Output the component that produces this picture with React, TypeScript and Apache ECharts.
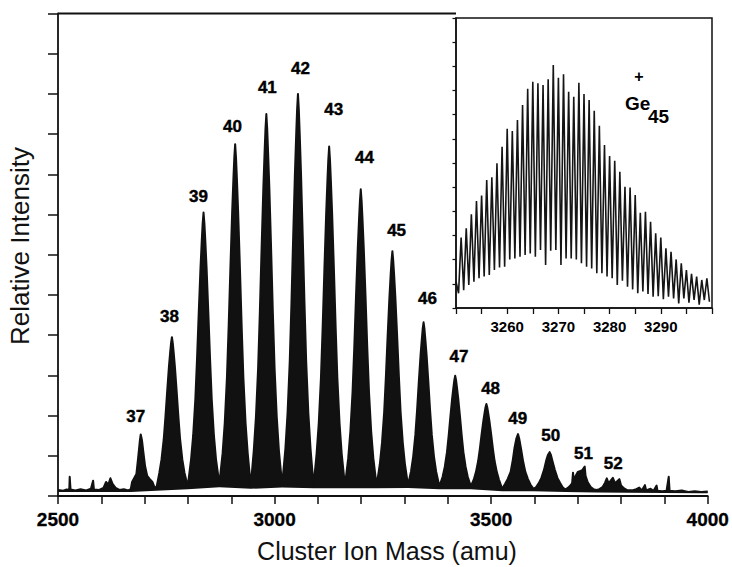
import React, { useEffect, useRef } from "react";
import * as echarts from "echarts";

// ---------- data ----------
const mainTickLabels = [2500, 3000, 3500, 4000];
const insetTickLabels = [3260, 3270, 3280, 3290];

const clusterSizes = [37, 38, 39, 40, 41, 42, 43, 44, 45, 46, 47, 48, 49, 50, 51, 52];
const clusterPeakMass = [2691, 2763, 2836, 2909, 2981, 3054, 3126, 3199, 3272, 3344, 3417, 3489, 3562, 3635, 3707, 3780];
const clusterPeakHeight = [1.53, 3.95, 7.05, 8.75, 9.5, 10.0, 8.69, 7.63, 6.09, 4.32, 2.99, 2.29, 1.54, 1.09, 0.73, 0.45];

// upper envelope of the main spectrum [mass amu, relative intensity]
const mainSpectrum: [number, number][] = [
  [2500, 0.15], [2512, 0.13], [2520, 0.16], [2526, 0.15], [2527, 0.48], [2529, 0.16], [2540, 0.14], [2552, 0.17],
  [2565, 0.14], [2576, 0.18], [2581, 0.38], [2583, 0.16], [2595, 0.15], [2605, 0.2], [2611, 0.35], [2616, 0.28],
  [2621, 0.44], [2626, 0.3], [2633, 0.2], [2642, 0.15], [2652, 0.17], [2662, 0.14], [2668, 0.17],
  // 37
  [2671, 0.35], [2676, 0.45], [2681, 0.55], [2685, 0.95], [2689, 1.38], [2691, 1.53], [2694, 1.38], [2697, 1.1],
  [2701, 0.75], [2706, 0.5], [2712, 0.42], [2718, 0.35], [2722, 0.24], [2727, 0.19],
  // 38
  [2734, 0.58], [2739, 0.91], [2744, 1.4], [2748, 1.96], [2752, 2.6], [2756, 3.2], [2759, 3.58], [2761, 3.8], [2763, 3.95],
  [2765, 3.8], [2767, 3.58], [2770, 3.2], [2774, 2.6], [2778, 1.96], [2782, 1.4], [2787, 0.91], [2792, 0.58], [2799.5, 0.24],
  // 39
  [2807, 0.89], [2812, 1.5], [2817, 2.39], [2821, 3.42], [2825, 4.58], [2829, 5.68], [2832, 6.37], [2834, 6.78], [2836, 7.05],
  [2838, 6.78], [2840, 6.37], [2843, 5.68], [2847, 4.58], [2851, 3.42], [2855, 2.39], [2860, 1.5], [2865, 0.89], [2872.5, 0.3],
  // 40
  [2880, 1.06], [2885, 1.82], [2890, 2.94], [2894, 4.22], [2898, 5.67], [2902, 7.04], [2905, 7.9], [2907, 8.41], [2909, 8.75],
  [2911, 8.41], [2913, 7.9], [2916, 7.04], [2920, 5.67], [2924, 4.22], [2928, 2.94], [2933, 1.82], [2938, 1.06], [2945, 0.25],
  // 41
  [2952, 1.13], [2957, 1.97], [2962, 3.18], [2966, 4.57], [2970, 6.15], [2974, 7.64], [2977, 8.57], [2979, 9.13], [2981, 9.5],
  [2983, 9.13], [2985, 8.57], [2988, 7.64], [2992, 6.15], [2996, 4.57], [3000, 3.18], [3005, 1.97], [3010, 1.13], [3017.5, 0.28],
  // 42
  [3025, 1.18], [3030, 2.06], [3035, 3.34], [3039, 4.81], [3043, 6.47], [3047, 8.04], [3050, 9.02], [3052, 9.61], [3054, 10.0],
  [3056, 9.61], [3058, 9.02], [3061, 8.04], [3065, 6.47], [3069, 4.81], [3073, 3.34], [3078, 2.06], [3083, 1.18], [3090, 0.26],
  // 43
  [3097, 1.05], [3102, 1.81], [3107, 2.92], [3111, 4.19], [3115, 5.63], [3119, 6.99], [3122, 7.84], [3124, 8.35], [3126, 8.69],
  [3128, 8.35], [3130, 7.84], [3133, 6.99], [3137, 5.63], [3141, 4.19], [3145, 2.92], [3150, 1.81], [3155, 1.05], [3162.5, 0.26],
  // 44
  [3170, 0.94], [3175, 1.61], [3180, 2.58], [3184, 3.69], [3188, 4.96], [3192, 6.14], [3195, 6.89], [3197, 7.33], [3199, 7.63],
  [3201, 7.33], [3203, 6.89], [3206, 6.14], [3210, 4.96], [3214, 3.69], [3218, 2.58], [3223, 1.61], [3228, 0.94], [3235.5, 0.26],
  // 45
  [3243, 0.79], [3248, 1.32], [3253, 2.08], [3257, 2.97], [3261, 3.97], [3265, 4.91], [3268, 5.5], [3270, 5.85], [3272, 6.09],
  [3274, 5.85], [3276, 5.5], [3279, 4.91], [3283, 3.97], [3287, 2.97], [3291, 2.08], [3296, 1.32], [3301, 0.79], [3308, 0.27],
  // 46
  [3315, 0.61], [3320, 0.98], [3325, 1.52], [3329, 2.14], [3333, 2.84], [3337, 3.5], [3340, 3.91], [3342, 4.16], [3344, 4.32],
  [3346, 4.16], [3348, 3.91], [3351, 3.5], [3355, 2.84], [3359, 2.14], [3363, 1.52], [3368, 0.98], [3373, 0.61], [3380.5, 0.24],
  // 47
  [3388, 0.48], [3393, 0.73], [3398, 1.09], [3402, 1.51], [3406, 1.99], [3410, 2.43], [3413, 2.71], [3415, 2.88], [3417, 2.99],
  [3419, 2.88], [3421, 2.71], [3424, 2.43], [3428, 1.99], [3432, 1.51], [3436, 1.09], [3441, 0.73], [3446, 0.48], [3453, 0.24],
  // 48
  [3460, 0.41], [3465, 0.6], [3470, 0.87], [3474, 1.18], [3478, 1.54], [3482, 1.87], [3485, 2.08], [3487, 2.21], [3489, 2.29],
  [3491, 2.21], [3493, 2.08], [3496, 1.87], [3500, 1.54], [3504, 1.18], [3508, 0.87], [3513, 0.6], [3518, 0.41], [3525.5, 0.18],
  // 49
  [3532, 0.3], [3538, 0.42], [3545, 0.6], [3550, 0.9], [3554, 1.2], [3558, 1.42], [3562, 1.54], [3565, 1.42], [3569, 1.18],
  [3574, 0.85], [3579, 0.6], [3585, 0.42], [3591, 0.28], [3598, 0.18],
  // 50
  [3604, 0.22], [3610, 0.32], [3616, 0.45], [3622, 0.65], [3627, 0.88], [3631, 1.02], [3635, 1.09], [3638, 1.02], [3642, 0.85],
  [3647, 0.65], [3653, 0.45], [3659, 0.33], [3665, 0.22], [3671, 0.16],
  // 51
  [3677, 0.2], [3683, 0.26], [3687, 0.32], [3689, 0.58], [3691, 0.36], [3695, 0.5], [3700, 0.6], [3705, 0.62], [3710, 0.64],
  [3714, 0.7], [3716, 0.73], [3718, 0.5], [3723, 0.34], [3730, 0.22], [3736, 0.17], [3743, 0.15],
  // 52
  [3750, 0.17], [3757, 0.22], [3763, 0.33], [3767, 0.44], [3771, 0.32], [3776, 0.38], [3781, 0.45], [3786, 0.32], [3791, 0.37],
  [3796, 0.42], [3800, 0.26], [3807, 0.19], [3815, 0.14],
  // tail
  [3825, 0.14], [3835, 0.17], [3842, 0.21], [3848, 0.14], [3855, 0.27], [3858, 0.14], [3868, 0.18], [3875, 0.13], [3882, 0.26],
  [3884, 0.13], [3895, 0.12], [3905, 0.13], [3910, 0.48], [3912, 0.13], [3925, 0.12], [3940, 0.14], [3955, 0.1], [3970, 0.12],
  [3985, 0.1], [4000, 0.11],
];

// lower edge of the noisy baseline trace
const baselineTrace: [number, number][] = [
  [2500, 0.1], [2668, 0.1], [2727, 0.13], [2799.5, 0.17], [2872.5, 0.22], [2945, 0.18], [3017.5, 0.21], [3090, 0.19],
  [3162.5, 0.19], [3235.5, 0.19], [3308, 0.2], [3380.5, 0.17], [3453, 0.17], [3525.5, 0.12], [3598, 0.12], [3671, 0.1],
  [3743, 0.09], [3815, 0.08], [3985, 0.07], [4000, 0.07],
];

// inset: isotope comb of Ge45+
const insetSpikeMass = [
  3250, 3251, 3252, 3253, 3254, 3255, 3256, 3257, 3258, 3259, 3260, 3261, 3262, 3263, 3264, 3265, 3266, 3267, 3268, 3269,
  3270, 3271, 3272, 3273, 3274, 3275, 3276, 3277, 3278, 3279, 3280, 3281, 3282, 3283, 3284, 3285, 3286, 3287, 3288, 3289,
  3290, 3291, 3292, 3293, 3294, 3295, 3296, 3297, 3298, 3299,
];
const insetSpikeValue = [
  1.1, 2.92, 3.3, 3.88, 4.43, 4.65, 5.3, 5.41, 5.99, 6.67, 7.42, 7.32, 7.78, 8.4, 9.07, 9.36, 9.3, 9.23, 9.46, 10.05,
  9.53, 9.67, 8.95, 8.74, 9.32, 8.85, 8.61, 8.16, 7.54, 6.74, 6.29, 6.09, 5.64, 5.02, 4.99, 4.68, 3.94, 3.98, 3.57, 3.09,
  2.92, 2.47, 2.33, 2.01, 1.85, 1.57, 1.41, 1.3, 1.16, 1.23,
];
const insetValleyMass = [
  3250.5, 3251.5, 3252.5, 3253.5, 3254.5, 3255.5, 3256.5, 3257.5, 3258.5, 3259.5, 3260.5, 3261.5, 3262.5, 3263.5, 3264.5,
  3265.5, 3266.5, 3267.5, 3268.5, 3269.5, 3270.5, 3271.5, 3272.5, 3273.5, 3274.5, 3275.5, 3276.5, 3277.5, 3278.5, 3279.5,
  3280.5, 3281.5, 3282.5, 3283.5, 3284.5, 3285.5, 3286.5, 3287.5, 3288.5, 3289.5, 3290.5, 3291.5, 3292.5, 3293.5, 3294.5,
  3295.5, 3296.5, 3297.5, 3298.5, 3299.5,
];
const insetValleyValue = [
  0.61, 0.74, 0.95, 1.09, 1.23, 1.3, 1.37, 1.57, 1.68, 1.71, 2.01, 2.05, 2.12, 2.19, 2.26, 2.12, 2.4, 1.78, 2.37, 2.4,
  1.78, 2.05, 2.05, 2.01, 1.85, 1.71, 1.64, 1.44, 1.44, 1.3, 1.23, 0.95, 1.13, 0.88, 0.77, 0.61, 0.68, 0.58, 0.47, 0.49,
  0.36, 0.47, 0.4, 0.19, 0.4, 0.22, 0.33, 0.14, 0.33, 0.26,
];

// ---------- layout / style ----------
const FONT = "'Liberation Sans', Arial, Helvetica, sans-serif";
const INK = "#111";
const labelOffsets: [number, number][] = [
  [-5, -17.5], [-2.5, -21], [-5, -16.5], [-2.7, -18], [1, -26.7], [2.5, -25.6], [4.5, -36.6], [3.7, -32],
  [4.2, -21], [4, -24], [3.8, -18.8], [4.2, -15], [-0.3, -16], [1.2, -16.5], [2.6, -13.6], [0.8, -14],
];

export default function App() {
  const ref = useRef<HTMLDivElement>(null);

  useEffect(() => {
    document.body.style.margin = "0";
    if (!ref.current) return;
    const chart = echarts.init(ref.current, undefined, { renderer: "svg" });

    const insetData: [number, number][] = [];
    insetSpikeMass.forEach((m, i) => {
      insetData.push([m, insetSpikeValue[i]]);
      insetData.push([insetValleyMass[i], insetValleyValue[i]]);
    });

    const labelData = clusterSizes.map((n, i) => ({
      value: [clusterPeakMass[i], clusterPeakHeight[i]],
      name: String(n),
      label: { offset: labelOffsets[i] },
    }));

    const option: any = {
      animation: false,
      backgroundColor: "#fff",
      grid: [
        { left: 58, top: 13.5, width: 653, height: 482.5, show: false },
        {
          left: 456, top: 18, width: 256, height: 290, show: true,
          backgroundColor: "#fff", borderColor: INK, borderWidth: 1.5, z: 5,
        },
      ],
      xAxis: [
        {
          type: "value", gridIndex: 0, min: 2500, max: 4000, interval: 500, z: 10,
          axisLine: { show: true, lineStyle: { color: INK, width: 1.8 } },
          axisTick: { show: true, inside: false, length: 8, lineStyle: { color: INK, width: 1.5 } },
          minorTick: { show: true, splitNumber: 5, length: 8, lineStyle: { color: INK, width: 1.5 } },
          splitLine: { show: false },
          axisLabel: {
            show: true, margin: 14, color: "#000", fontSize: 19, fontWeight: "bold", fontFamily: FONT,
            textBorderColor: "#000", textBorderWidth: 0.3,
            formatter: (v: number) => (mainTickLabels.includes(v) ? String(v) : ""),
          },
        },
        {
          type: "value", gridIndex: 1, min: 3250, max: 3300, interval: 10, z: 10,
          axisLine: { show: true, lineStyle: { color: INK, width: 1.5 } },
          axisTick: { show: true, inside: false, length: 6, lineStyle: { color: INK, width: 1.3 } },
          minorTick: { show: true, splitNumber: 2, length: 6, lineStyle: { color: INK, width: 1.3 } },
          splitLine: { show: false },
          axisLabel: {
            show: true, margin: 11, color: "#000", fontSize: 15, fontWeight: "bold", fontFamily: FONT,
            formatter: (v: number) => (insetTickLabels.includes(v) ? String(v) : ""),
          },
        },
      ],
      yAxis: [
        {
          type: "value", gridIndex: 0, min: 0, max: 12, interval: 1, z: 10,
          axisLine: { show: true, lineStyle: { color: INK, width: 1.8 } },
          axisTick: { show: true, inside: false, length: 10, lineStyle: { color: INK, width: 1.5 } },
          axisLabel: { show: false },
          splitLine: { show: false },
        },
        {
          type: "value", gridIndex: 1, min: 0, max: 12, interval: 1, z: 10,
          axisLine: { show: true, lineStyle: { color: INK, width: 1.5 } },
          axisTick: { show: true, inside: false, length: 3.5, lineStyle: { color: INK, width: 1.2 } },
          axisLabel: { show: false },
          splitLine: { show: false },
        },
      ],
      series: [
        {
          name: "envelopeFill", type: "custom", xAxisIndex: 0, yAxisIndex: 0,
          data: [[2500, 0]], silent: true, z: 2, clip: true,
          renderItem: (_params: any, api: any) => {
            const top = mainSpectrum.map((p) => api.coord(p));
            const bottom = baselineTrace.slice().reverse().map((p) => api.coord(p));
            return {
              type: "polygon",
              shape: { points: top.concat(bottom) },
              style: { fill: INK, stroke: "none" },
            };
          },
        },
        {
          name: "spectrum", type: "line", xAxisIndex: 0, yAxisIndex: 0, data: mainSpectrum,
          showSymbol: false, symbol: "none", silent: true, z: 4,
          lineStyle: { width: 2, color: INK, join: "round" },
        },
        {
          name: "clusterLabels", type: "scatter", xAxisIndex: 0, yAxisIndex: 0, data: labelData,
          symbolSize: 0, itemStyle: { color: "#000", opacity: 1 }, silent: true, z: 6,
          label: {
            show: true, position: "inside", color: "#000", opacity: 1, fontSize: 17, fontWeight: "bold", fontFamily: FONT,
            align: "center", verticalAlign: "middle", textBorderColor: "#000", textBorderWidth: 0.4,
            formatter: (p: any) => p.name,
          },
        },
        {
          name: "inset", type: "line", xAxisIndex: 1, yAxisIndex: 1, data: insetData,
          showSymbol: false, symbol: "none", silent: true, z: 6, clip: true,
          lineStyle: { width: 1.6, color: "#151515" },
        },
      ],
      graphic: [
        {
          type: "line", silent: true, z: 20,
          shape: { x1: 58, y1: 13.5, x2: 456, y2: 13.5 },
          style: { stroke: INK, lineWidth: 1.8 },
        },
        {
          type: "text", x: 20, y: 246, rotation: Math.PI / 2, silent: true, z: 20,
          style: {
            text: "Relative Intensity", fill: INK, fontSize: 26, fontFamily: FONT,
            align: "center", verticalAlign: "middle", textAlign: "center", textVerticalAlign: "middle",
          },
        },
        {
          type: "text", x: 387, y: 551, silent: true, z: 20,
          style: {
            text: "Cluster Ion Mass (amu)", fill: INK, fontSize: 25, fontFamily: FONT,
            align: "center", verticalAlign: "middle", textAlign: "center", textVerticalAlign: "middle",
          },
        },
        {
          type: "text", x: 625, y: 103, silent: true, z: 20,
          style: {
            text: "Ge", fill: "#000", fontSize: 19, fontWeight: "bold", fontFamily: FONT,
            align: "left", verticalAlign: "middle", textAlign: "left", textVerticalAlign: "middle",
          },
        },
        {
          type: "text", x: 639, y: 76, silent: true, z: 20,
          style: {
            text: "+", fill: "#000", fontSize: 16, fontWeight: "bold", fontFamily: FONT,
            align: "center", verticalAlign: "middle", textAlign: "center", textVerticalAlign: "middle",
          },
        },
        {
          type: "text", x: 648, y: 116, silent: true, z: 20,
          style: {
            text: "45", fill: "#000", fontSize: 19, fontWeight: "bold", fontFamily: FONT,
            align: "left", verticalAlign: "middle", textAlign: "left", textVerticalAlign: "middle",
          },
        },
      ],
    };

    chart.setOption(option);
    return () => chart.dispose();
  }, []);

  return <div ref={ref} style={{ width: 732, height: 567 }} />;
}
